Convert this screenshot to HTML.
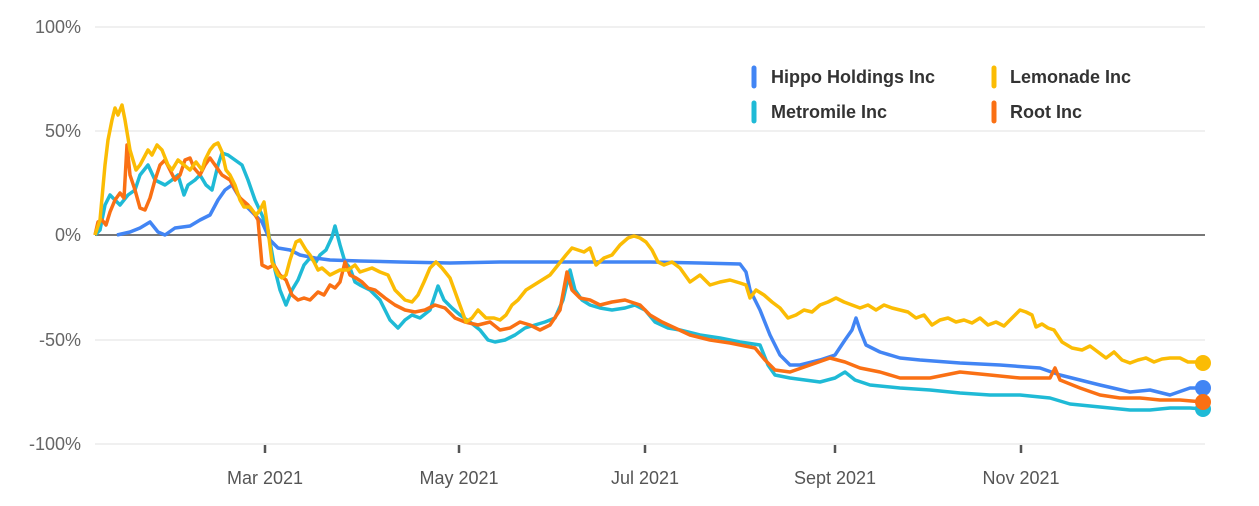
<!DOCTYPE html>
<html><head><style>html,body{margin:0;padding:0;background:#fff}svg{display:block}</style></head><body>
<svg width="1259" height="506" viewBox="0 0 1259 506" xmlns="http://www.w3.org/2000/svg" font-family="Liberation Sans, sans-serif">
<g stroke="#f0f0f0" stroke-width="2">
<line x1="95" y1="27" x2="1205" y2="27"/><line x1="95" y1="131" x2="1205" y2="131"/>
<line x1="95" y1="340" x2="1205" y2="340"/><line x1="95" y1="444" x2="1205" y2="444"/>
</g>
<line x1="95" y1="235" x2="1205" y2="235" stroke="#777" stroke-width="2"/>
<g fill="#666" font-size="18" text-anchor="end">
<text x="81" y="33">100%</text><text x="81" y="137">50%</text><text x="81" y="241">0%</text>
<text x="81" y="346">-50%</text><text x="81" y="450">-100%</text>
</g>
<g stroke="#555" stroke-width="2.5"><line x1="265" y1="445" x2="265" y2="453"/><line x1="459" y1="445" x2="459" y2="453"/><line x1="645" y1="445" x2="645" y2="453"/><line x1="835" y1="445" x2="835" y2="453"/><line x1="1021" y1="445" x2="1021" y2="453"/></g>
<g fill="#555" font-size="18" text-anchor="middle">
<text x="265" y="484">Mar 2021</text><text x="459" y="484">May 2021</text><text x="645" y="484">Jul 2021</text><text x="835" y="484">Sept 2021</text><text x="1021" y="484">Nov 2021</text>
</g>
<g fill="none" stroke-width="3.5" stroke-linejoin="round">
<polyline stroke="#1fbad6" points="95,235 100,230 105,205 110,195 120,205 128,195 135,190 140,175 148,165 155,180 165,185 172,180 178,175 184,195 188,185 195,180 200,175 206,185 212,190 218,165 222,153 228,155 235,160 242,165 248,180 255,200 262,215 268,230 275,270 280,290 286,305 292,290 298,280 304,265 310,258 316,262 320,255 326,250 332,237 335,226 340,245 345,262 350,268 355,282 360,285 370,290 380,300 390,320 398,328 405,320 412,315 420,318 430,310 438,286 444,300 452,308 460,315 470,322 480,330 488,340 495,342 505,340 515,335 525,328 535,325 545,322 555,318 563,300 570,270 575,290 582,300 590,305 600,308 612,310 625,308 635,305 645,310 655,322 668,328 680,330 700,335 720,338 740,342 760,345 768,365 775,375 790,378 805,380 820,382 835,378 845,372 855,380 870,385 900,388 930,390 960,393 990,395 1020,395 1050,398 1070,404 1090,406 1110,408 1130,410 1150,410 1170,408 1190,408 1203,409"/>
<polyline stroke="#4285f4" points="117,235 130,232 140,228 150,222 158,232 165,235 175,228 190,226 200,220 210,215 218,200 225,190 232,185 238,195 245,205 255,215 262,222 270,240 278,248 290,250 300,255 315,258 330,260 360,261 400,262 450,263 500,262 550,262 600,262 650,262 700,263 740,264 746,272 750,290 760,310 770,335 780,355 790,365 800,365 820,360 835,355 845,340 852,330 856,318 860,330 866,345 880,352 900,358 920,360 960,363 1000,365 1040,368 1060,375 1080,380 1100,385 1130,392 1150,390 1170,395 1190,388 1203,388"/>
<polyline stroke="#fa7014" points="95,235 98,222 102,220 106,225 110,212 115,200 120,193 124,198 127,145 130,175 135,190 140,208 145,210 150,198 155,180 160,165 165,160 170,170 175,180 180,175 185,160 190,158 194,168 200,175 205,165 210,158 215,165 222,175 230,180 240,198 248,205 254,213 258,220 262,265 268,268 274,265 280,275 286,280 292,295 298,300 304,298 310,300 318,292 324,295 330,285 335,288 340,282 345,262 350,275 356,278 362,282 368,288 375,290 385,298 395,305 405,310 415,312 425,310 435,305 445,308 455,318 465,322 478,325 490,322 500,330 510,328 520,322 530,325 540,330 550,325 560,310 567,272 572,290 580,298 590,300 600,305 612,302 625,300 640,305 650,315 662,322 675,328 690,335 710,340 730,343 755,348 765,360 775,370 790,372 810,365 830,358 845,362 860,368 880,372 900,378 930,378 960,372 990,375 1020,378 1050,378 1055,368 1060,380 1080,388 1100,395 1120,398 1140,398 1160,400 1180,400 1203,402"/>
<polyline stroke="#fbbc04" points="95,235 100,220 105,165 108,140 112,120 115,108 118,115 122,105 125,120 130,150 136,170 140,165 148,150 152,155 157,145 162,150 168,165 172,170 178,160 184,165 190,170 196,162 202,170 205,160 210,150 214,145 218,143 222,152 226,170 230,175 235,185 240,200 244,207 250,207 256,215 260,210 264,202 268,230 272,262 278,275 282,278 286,275 290,260 296,242 300,240 306,250 310,255 314,262 318,270 322,268 330,275 340,270 348,270 355,265 360,272 366,270 372,268 380,272 388,275 395,290 405,300 412,302 418,295 424,282 430,268 436,262 442,268 450,278 458,300 466,322 472,318 478,310 486,318 494,318 500,320 506,315 512,305 518,300 526,290 534,285 542,280 550,275 558,265 566,255 572,248 578,250 584,252 590,248 596,265 604,258 612,255 620,245 628,238 634,236 640,238 646,242 652,250 658,262 664,265 672,262 680,268 690,282 700,275 710,285 720,282 730,280 740,283 746,285 750,298 756,290 764,295 772,302 780,308 788,318 796,315 804,310 812,312 820,305 828,302 836,298 844,302 852,305 860,308 868,305 876,310 884,305 892,308 900,310 908,312 916,318 924,315 932,325 940,320 948,318 956,322 964,320 972,323 980,318 988,325 996,322 1004,326 1012,318 1020,310 1026,312 1032,315 1036,327 1042,324 1048,328 1054,330 1062,342 1072,348 1082,350 1090,346 1098,352 1106,358 1114,352 1122,360 1130,363 1138,360 1146,358 1154,362 1162,359 1170,358 1180,358 1188,362 1196,362 1203,363"/>
</g>
<circle cx="1203" cy="409" r="8" fill="#1fbad6"/>
<circle cx="1203" cy="388" r="8" fill="#4285f4"/>
<circle cx="1203" cy="402" r="8" fill="#fa7014"/>
<circle cx="1203" cy="363" r="8" fill="#fbbc04"/>
<g stroke-width="5" stroke-linecap="round">
<line x1="754" y1="68" x2="754" y2="86" stroke="#4285f4"/>
<line x1="994" y1="68" x2="994" y2="86" stroke="#fbbc04"/>
<line x1="754" y1="103" x2="754" y2="121" stroke="#1fbad6"/>
<line x1="994" y1="103" x2="994" y2="121" stroke="#fa7014"/>
</g>
<g fill="#333" font-size="18" font-weight="bold">
<text x="771" y="83">Hippo Holdings Inc</text><text x="1010" y="83">Lemonade Inc</text>
<text x="771" y="118">Metromile Inc</text><text x="1010" y="118">Root Inc</text>
</g>
</svg>
</body></html>
